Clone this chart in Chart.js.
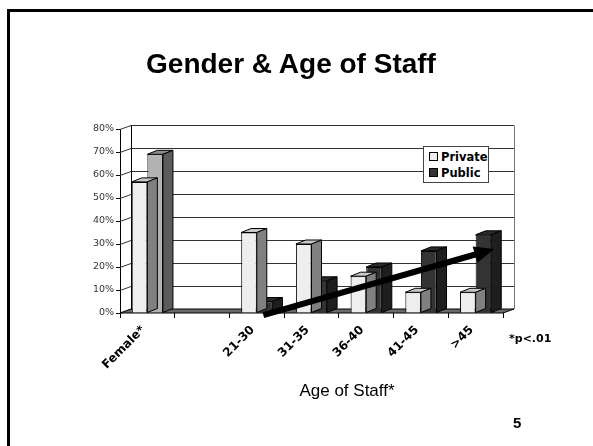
<!DOCTYPE html>
<html><head><meta charset="utf-8">
<script src="https://cdn.jsdelivr.net/npm/chart.js@4"></script>
<style>
html,body{margin:0;padding:0;background:#fff;width:593px;height:446px;overflow:hidden;position:relative;}
#frame{position:absolute;left:7px;top:9px;width:700px;height:600px;border-left:3px solid #000;border-top:3px solid #000;}
#title{position:absolute;left:0;width:582px;top:50px;text-align:center;font:bold 28px 'Liberation Sans',Arial,sans-serif;line-height:28px;color:#000;white-space:nowrap;}
#xtitle{position:absolute;left:247px;width:200px;top:382px;text-align:center;font:17px 'Liberation Sans',Arial,sans-serif;line-height:17px;color:#000;white-space:nowrap;}
#note{position:absolute;left:509px;top:333px;font:bold 11px 'DejaVu Sans',sans-serif;line-height:11px;color:#000;white-space:nowrap;}
#page{position:absolute;left:513px;top:415px;font:bold 15px 'Liberation Sans',Arial,sans-serif;line-height:15px;color:#000;}
#legend{position:absolute;left:423px;top:146px;width:64px;height:35px;border:1px solid #444;background:#fff;font:bold 11.5px 'DejaVu Sans',sans-serif;color:#000;}
#legend .it{position:absolute;left:5px;height:14px;line-height:14px;white-space:nowrap;}
#legend .sw{display:inline-block;width:7px;height:7px;border:1px solid #000;margin-right:3px;vertical-align:0px;}
canvas{position:absolute;left:0;top:0;}
</style></head>
<body>
<div id="frame"></div>
<canvas id="c" width="593" height="446"></canvas>
<div id="title">Gender &amp; Age of Staff</div>
<div id="xtitle">Age of Staff*</div>
<div id="note">*p&lt;.01</div>
<div id="page">5</div>
<div id="legend">
  <div class="it" style="top:3px"><span class="sw" style="background:#eeeeee"></span>Private</div>
  <div class="it" style="top:19px"><span class="sw" style="background:#333333"></span>Public</div>
</div>
<script>
// ---- data ----
const categories = ['Female*', '', '21-30', '31-35', '36-40', '41-45', '>45'];
const seriesNames = ['Private', 'Public'];
const privateValues = [57, null, 35, 30, 16, 9, 9];
const publicValues = [69, null, 5, 14, 20, 27, 34];
const yTickValues = [0, 10, 20, 30, 40, 50, 60, 70, 80];
// trend arrow, in (category index, percent) units
const trendArrowStart = [2.12, -0.9];
const trendArrowEnd = [6.34, 27.8];

// ---- styles ----
const privateFaces = {front: '#eeeeee', top: '#c8c8c8', side: '#808080'};
const publicFaces = {front: '#333333', top: '#2a2a2a', side: '#1e1e1e'};
const femalePublicFaces = {front: '#b3b3b3', top: '#8c8c8c', side: '#5c5c5c'};
const WALL_DX = 11, WALL_DY = 4, BAR_DX = 10, BAR_DY = 4;

function facesFor(dsIndex, i) {
  if (dsIndex === 0) return privateFaces;
  return i === 0 ? femalePublicFaces : publicFaces;
}

function poly(ctx, pts, fill, stroke) {
  ctx.beginPath();
  ctx.moveTo(pts[0][0], pts[0][1]);
  for (let k = 1; k < pts.length; k++) ctx.lineTo(pts[k][0], pts[k][1]);
  ctx.closePath();
  if (fill) { ctx.fillStyle = fill; ctx.fill(); }
  if (stroke) { ctx.strokeStyle = stroke; ctx.lineWidth = 1; ctx.stroke(); }
}

const threeD = {
  id: 'threeD',
  beforeDatasetsDraw(chart) {
    const ctx = chart.ctx, a = chart.chartArea, y = chart.scales.y;
    ctx.save();
    const L = a.left, R = a.right, B = a.bottom;
    yTickValues.forEach(v => {
      const py = Math.round(y.getPixelForValue(v)) + 0.5;
      ctx.strokeStyle = '#333'; ctx.lineWidth = 1;
      ctx.beginPath(); ctx.moveTo(L + WALL_DX, py - WALL_DY); ctx.lineTo(R + WALL_DX, py - WALL_DY); ctx.stroke();
      ctx.beginPath(); ctx.moveTo(L, py); ctx.lineTo(L + WALL_DX, py - WALL_DY); ctx.stroke();
    });
    const topY = Math.round(y.getPixelForValue(80)) + 0.5;
    ctx.strokeStyle = '#000';
    ctx.beginPath(); ctx.moveTo(L + WALL_DX + 0.5, topY - WALL_DY); ctx.lineTo(L + WALL_DX + 0.5, B - WALL_DY); ctx.stroke();
    ctx.strokeStyle = '#777';
    ctx.beginPath(); ctx.moveTo(R + WALL_DX + 0.5, topY - WALL_DY); ctx.lineTo(R + WALL_DX + 0.5, B - WALL_DY); ctx.stroke();
    poly(ctx, [[L, B], [R, B], [R + WALL_DX, B - WALL_DY], [L + WALL_DX, B - WALL_DY]], '#6a6a6a', '#000');
    ctx.restore();
  },
  afterDatasetDraw(chart, args) {
    const ctx = chart.ctx, meta = args.meta, di = args.index;
    const data = chart.data.datasets[di].data;
    ctx.save();
    meta.data.forEach((el, i) => {
      if (data[i] === null || data[i] === undefined) return;
      const p = el.getProps(['x', 'y', 'base', 'width'], true);
      const l = p.x - p.width / 2, r = p.x + p.width / 2, t = p.y, b = p.base;
      const f = facesFor(di, i);
      poly(ctx, [[l, t], [r, t], [r + BAR_DX, t - BAR_DY], [l + BAR_DX, t - BAR_DY]], f.top, '#000');
      poly(ctx, [[r, t], [r + BAR_DX, t - BAR_DY], [r + BAR_DX, b - BAR_DY], [r, b]], f.side, '#000');
    });
    ctx.restore();
  },
  afterDraw(chart) {
    const ctx = chart.ctx, xs = chart.scales.x, ys = chart.scales.y;
    const x0 = xs.getPixelForValue(trendArrowStart[0]), y0 = ys.getPixelForValue(trendArrowStart[1]);
    const x1 = xs.getPixelForValue(trendArrowEnd[0]), y1 = ys.getPixelForValue(trendArrowEnd[1]);
    const ang = Math.atan2(y1 - y0, x1 - x0);
    const headLen = 20, headHalf = 8.5;
    const bx = x1 - headLen * Math.cos(ang), by = y1 - headLen * Math.sin(ang);
    ctx.save();
    ctx.strokeStyle = '#000'; ctx.lineWidth = 6; ctx.lineCap = 'butt';
    ctx.beginPath(); ctx.moveTo(x0, y0); ctx.lineTo(bx + 2 * Math.cos(ang), by + 2 * Math.sin(ang)); ctx.stroke();
    ctx.fillStyle = '#000';
    ctx.beginPath();
    ctx.moveTo(x1, y1);
    ctx.lineTo(bx + headHalf * Math.sin(ang), by - headHalf * Math.cos(ang));
    ctx.lineTo(bx - headHalf * Math.sin(ang), by + headHalf * Math.cos(ang));
    ctx.closePath(); ctx.fill();
    ctx.restore();
  }
};

new Chart(document.getElementById('c'), {
  type: 'bar',
  data: {
    labels: categories,
    datasets: [
      {label: seriesNames[0], data: privateValues, backgroundColor: privateFaces.front, borderColor: '#000', borderWidth: 1,
       categoryPercentage: 0.57, barPercentage: 1.0},
      {label: seriesNames[1], data: publicValues,
       backgroundColor: (c) => facesFor(1, c.dataIndex).front, borderColor: '#000', borderWidth: 1,
       categoryPercentage: 0.57, barPercentage: 1.0}
    ]
  },
  options: {
    responsive: false, animation: false, devicePixelRatio: 1,
    layout: {padding: {left: 0, right: 90, top: 129, bottom: 0}},
    plugins: {legend: {display: false}, tooltip: {enabled: false}, title: {display: false}},
    scales: {
      x: {
        offset: true,
        grid: {display: true, drawOnChartArea: false, drawTicks: true, tickLength: 5, color: '#000', offset: true},
        border: {display: false},
        ticks: {maxRotation: 45, minRotation: 45, autoSkip: false, color: '#000', padding: 5, labelOffset: -4,
                font: {family: 'DejaVu Sans', weight: 'bold', size: 12}},
        afterFit(s) { s.height = 133; }
      },
      y: {
        min: 0, max: 80,
        afterBuildTicks(s) { s.ticks = yTickValues.map(v => ({value: v})); },
        ticks: {callback: v => v + '%', color: '#333', padding: 2, font: {family: 'DejaVu Sans', size: 9.5}},
        grid: {drawOnChartArea: false, tickLength: 4, color: '#000'},
        border: {display: true, color: '#000', width: 1},
        afterFit(s) { s.width = 120; }
      }
    }
  },
  plugins: [threeD]
});
</script>
</body></html>
